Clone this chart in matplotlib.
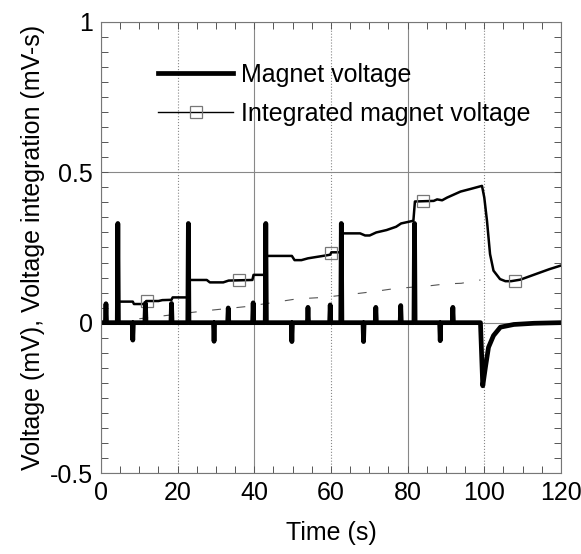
import matplotlib
matplotlib.use("Agg")
import matplotlib.pyplot as plt
from matplotlib.lines import Line2D
from matplotlib.ticker import MultipleLocator, FuncFormatter
import numpy as np

plt.rcParams['font.family'] = ['Liberation Sans', 'DejaVu Sans']

# magnet voltage spikes (time s, peak mV)
spike_t = [1.3, 4.4, 8.3, 11.6, 18.4, 22.8, 29.5, 33.2, 39.7, 43.0, 49.8, 54.0, 59.8,
           62.7, 68.5, 71.7, 78.2, 81.8, 88.5, 91.8]
spike_v = [0.063, 0.33, -0.058, 0.065, 0.064, 0.33, -0.062, 0.049, 0.066, 0.33, -0.063,
           0.051, 0.059, 0.33, -0.063, 0.051, 0.057, 0.33, -0.06, 0.051]
# dip near 100 s
dip_t = [99.0, 99.6, 100.3, 101.1, 102.4, 104.2, 107.7, 113.0, 120.0]
dip_v = [0.0, -0.21, -0.148, -0.082, -0.043, -0.015, -0.006, -0.002, 0.0]

# integrated magnet voltage (mV-s)
integ_t = [0, 4.3, 4.5, 8.3, 8.6, 11.5, 11.8, 15, 16, 18.4, 18.7, 22.6, 22.9, 27.6, 28.4,
           31.9, 33.3, 39.5, 39.8, 42.8, 43.2, 49.8, 50.5, 52.3, 54.0, 57.9, 59.8, 60.1,
           62.6, 62.9, 67.6, 68.9, 70.1, 71.8, 74.5, 77.0, 78.3, 81.5, 81.9, 86.8, 87.7,
           89.0, 90.3, 93.8, 96.5, 99.4, 100.0, 100.7, 101.5, 102.4, 104.1, 105.5, 107.0,
           109.4, 112.0, 114.6, 117.0, 120.0]
integ_v = [0.0, 0.0, 0.07, 0.07, 0.062, 0.062, 0.072, 0.072, 0.075, 0.076, 0.084, 0.084,
           0.142, 0.142, 0.134, 0.134, 0.14, 0.142, 0.159, 0.159, 0.222, 0.222, 0.208,
           0.208, 0.214, 0.222, 0.226, 0.234, 0.234, 0.297, 0.297, 0.29, 0.29, 0.30, 0.308,
           0.319, 0.33, 0.339, 0.403, 0.405, 0.41, 0.407, 0.416, 0.436, 0.445, 0.455, 0.416,
           0.339, 0.228, 0.173, 0.145, 0.138, 0.138, 0.143, 0.155, 0.167, 0.178, 0.19]
marker_t = [12, 36, 60, 84, 108]

# thin dashed trend
dash_t = [10, 14.5, 27.6, 37.5, 45, 51, 58, 63.5, 67, 71.5, 76.4, 86, 90, 94, 99]
dash_v = [0.013, 0.02, 0.04, 0.053, 0.067, 0.079, 0.084, 0.092, 0.097, 0.104, 0.113, 0.123,
          0.129, 0.131, 0.142]

# build magnet trace from the spike list
mag_t = [0.0]
mag_v = [0.0]
for t, v in zip(spike_t, spike_v):
    mag_t += [t - 0.15, t, t + 0.15]
    mag_v += [0.0, v, 0.0]
mag_t += dip_t
mag_v += dip_v

fig = plt.figure(figsize=(5.81, 5.54), dpi=100)
ax = fig.add_axes([0.1738, 0.1462, 0.7917, 0.8141])

ax.plot(dash_t, dash_v, color='#555555', lw=0.8, dashes=(8, 14))
ax.plot(integ_t, integ_v, color='k', lw=1.8)
ax.plot(marker_t, np.interp(marker_t, integ_t, integ_v), ls='none', marker='s', ms=9,
        mfc='none', mec='#777777', mew=0.9)
ax.plot(mag_t, mag_v, color='k', lw=3.4)

ax.set_xlim(0, 120)
ax.set_ylim(-0.5, 1)
ax.xaxis.set_major_locator(MultipleLocator(20))
ax.xaxis.set_minor_locator(MultipleLocator(5))
ax.yaxis.set_major_locator(MultipleLocator(0.5))
ax.yaxis.set_minor_locator(MultipleLocator(0.05))
ax.yaxis.set_major_formatter(FuncFormatter(lambda v, p: '%g' % v))
ax.tick_params(which='both', direction='in', top=True, right=True, length=5,
               width=0.7, color='#555555', labelsize=18, pad=6)
ax.grid(True, which='major', color='#888888', lw=0.8)
for s in ax.spines.values():
    s.set_color('#777777')
    s.set_linewidth(0.8)

ax.set_xlabel('Time (s)', fontsize=18, labelpad=11)
ax.set_ylabel('Voltage (mV), Voltage integration (mV-s)', fontsize=18, labelpad=3)

handles = [Line2D([], [], color='k', lw=3.4),
           Line2D([], [], color='k', lw=1.0, marker='s', ms=9, mfc='none', mec='#777777', mew=0.9)]
ax.legend(handles, ['Magnet voltage', 'Integrated magnet voltage'], loc='upper left',
          bbox_to_anchor=(0.125, 0.91), frameon=False, fontsize=18, handlelength=3.0,
          handletextpad=0.3, labelspacing=0.6, borderpad=0, borderaxespad=0)

# draw once so tick objects have their positions, then make some gridlines dotted
fig.canvas.draw()
for tick in ax.xaxis.get_major_ticks():
    if round(tick.get_loc()) in (20, 60, 100):
        tick.gridline.set_linestyle(':')

plt.savefig('out.png', dpi=100)
